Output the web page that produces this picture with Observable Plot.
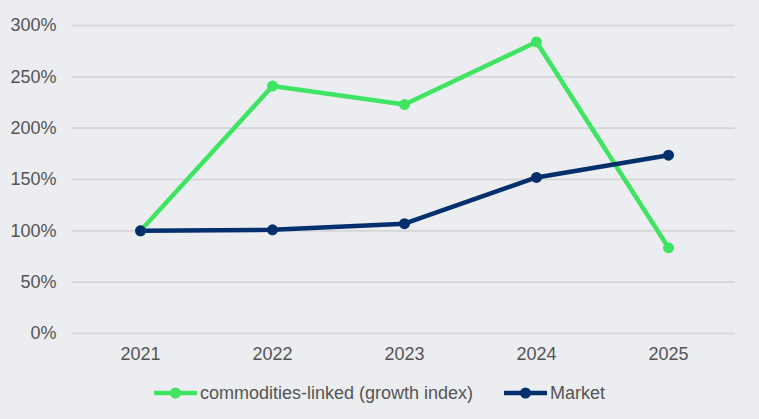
<!DOCTYPE html>
<html>
<head>
<meta charset="utf-8">
<script src="https://cdn.jsdelivr.net/npm/d3@7"></script>
<script src="https://cdn.jsdelivr.net/npm/@observablehq/plot@0.6"></script>
<style>
  html, body { margin: 0; padding: 0; background: #ebedf0; }
  body { width: 759px; height: 419px; overflow: hidden; font-family: "Liberation Sans", Arial, sans-serif; }
  #legend { display: flex; justify-content: center; align-items: center; height: 46px; font-size: 18px; color: #555555; }
  .item { display: flex; align-items: center; }
  .item svg { margin-right: 3px; }
  .gap { width: 31px; }
</style>
</head>
<body>
<div id="chart"></div>
<div id="legend"></div>
<script>
const years = ["2021", "2022", "2023", "2024", "2025"];
const seriesNames = ["commodities-linked (growth index)", "Market"];
const commodities = [1.00, 2.41, 2.23, 2.84, 0.835];
const market = [1.00, 1.01, 1.07, 1.52, 1.737];
const colors = ["#3ee462", "#03306d"];
const yTicks = [0, 0.5, 1, 1.5, 2, 2.5, 3];

const data = [];
years.forEach((y, i) => {
  data.push({year: y, value: commodities[i], series: seriesNames[0]});
  data.push({year: y, value: market[i], series: seriesNames[1]});
});

const chart = Plot.plot({
  width: 759,
  height: 370,
  marginLeft: 72,
  marginRight: 24,
  marginTop: 25,
  marginBottom: 37,
  style: {background: "#ebedf0", fontFamily: "Liberation Sans, Arial, sans-serif", fontSize: "18px", color: "#555555"},
  x: {type: "point", domain: years, padding: 0.5, label: null, tickSize: 0, tickPadding: 14},
  y: {domain: [0, 3], ticks: yTicks, tickFormat: d => Math.round(d * 100) + "%", label: null, tickSize: 0, tickPadding: 16},
  color: {domain: seriesNames, range: colors},
  marks: [
    Plot.gridY(yTicks, {stroke: "#d4d4d6", strokeOpacity: 1, strokeWidth: 1.6}),
    Plot.axisX({tickSize: 0, tickPadding: 14, fill: "#555555", fontSize: 18}),
    Plot.axisY({ticks: yTicks, tickFormat: d => Math.round(d * 100) + "%", tickSize: 0, tickPadding: 16, fill: "#555555", fontSize: 18}),
    Plot.line(data, {x: "year", y: "value", z: "series", stroke: "series", strokeWidth: 4.5, strokeLinecap: "round", strokeLinejoin: "round"}),
    Plot.dot(data, {x: "year", y: "value", fill: "series", r: 5.5})
  ]
});
document.getElementById("chart").appendChild(chart);

const legend = d3.select("#legend");
seriesNames.forEach((name, i) => {
  if (i > 0) legend.append("div").attr("class", "gap");
  const item = legend.append("div").attr("class", "item");
  const s = item.append("svg").attr("width", 43).attr("height", 14);
  s.append("line").attr("x1", 1).attr("x2", 42).attr("y1", 7).attr("y2", 7)
    .attr("stroke", colors[i]).attr("stroke-width", 4.5).attr("stroke-linecap", "round");
  s.append("circle").attr("cx", 21.5).attr("cy", 7).attr("r", 5.5).attr("fill", colors[i]);
  item.append("span").text(name);
});
</script>
</body>
</html>
